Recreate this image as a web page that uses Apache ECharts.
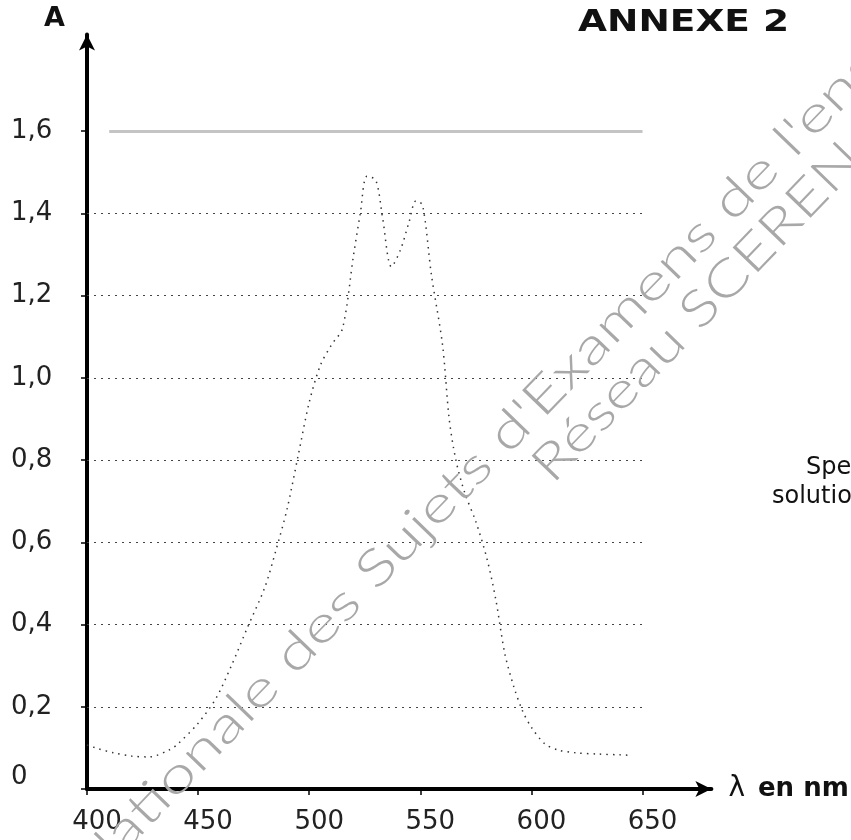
<!DOCTYPE html>
<html>
<head>
<meta charset="utf-8">
<script src="https://cdn.jsdelivr.net/npm/echarts@6/dist/echarts.min.js"></script>
<style>
  html, body { margin: 0; padding: 0; background: #fff; }
  #chart { width: 851px; height: 840px; }
</style>
</head>
<body>
<div id="chart"></div>
<script>
const wavelengths = [400, 405, 412, 420, 428, 437, 441, 450, 458, 465, 472, 480, 485, 490, 495,
  500, 505, 510, 515, 520, 523, 526, 530, 533, 537, 541, 545, 548, 551, 555, 560, 563, 566,
  570, 575, 580, 584, 588, 592, 596, 600, 606, 612, 620, 630, 640, 645];
const absorbance = [0.107, 0.098, 0.088, 0.080, 0.078, 0.095, 0.11, 0.16, 0.22, 0.30, 0.39, 0.49, 0.58, 0.68, 0.81,
  0.94, 1.03, 1.08, 1.12, 1.30, 1.40, 1.49, 1.48, 1.39, 1.27, 1.31, 1.38, 1.43, 1.42, 1.25, 1.08, 0.90, 0.80,
  0.72, 0.65, 0.56, 0.46, 0.33, 0.25, 0.19, 0.15, 0.11, 0.095, 0.088, 0.085, 0.083, 0.082];

const xTicks = [400, 450, 500, 550, 600, 650];
const yTicks = [0, 0.2, 0.4, 0.6, 0.8, 1.0, 1.2, 1.4, 1.6];
const gridLevels = [0.2, 0.4, 0.6, 0.8, 1.0, 1.2, 1.4];
const topLevel = 1.6;

const chart = echarts.init(document.getElementById('chart'));

const gridLines = gridLevels.map(v => [{ coord: [400, v] }, { coord: [650, v] }]);
gridLines.push([
  { coord: [410, topLevel], lineStyle: { type: 'solid', color: '#c4c4c4', width: 3 } },
  { coord: [650, topLevel] }
]);

const wmAngle = 46 * Math.PI / 180;
const wmStyle = {
  fontFamily: 'Lato', fontWeight: 300, fontSize: 50, fill: '#a8a8a8',
  align: 'center', verticalAlign: 'middle'
};

const option = {
  animation: false,
  backgroundColor: '#fff',
  grid: { left: 87, right: 139.6, top: 34.4, bottom: 51, outerBoundsMode: 'none' },
  xAxis: {
    type: 'value',
    min: 400,
    max: 681,
    interval: 50,
    name: '{l|λ}{b|en nm}',
    nameLocation: 'end',
    nameGap: 17,
    nameTextStyle: {
      rich: {
        l: { fontFamily: 'DejaVu Sans', fontSize: 28, color: '#111', padding: [0, 13, 0, 0] },
        b: { fontFamily: 'DejaVu Sans', fontSize: 26, fontWeight: 'bold', color: '#111' }
      }
    },
    axisLine: {
      show: true,
      symbol: ['none', 'arrow'],
      symbolSize: [12, 16],
      lineStyle: { color: '#000', width: 4 }
    },
    axisTick: { show: true, customValues: xTicks, length: 6, lineStyle: { color: '#000', width: 1.5 } },
    axisLabel: {
      customValues: xTicks,
      fontFamily: 'DejaVu Sans',
      fontSize: 26,
      color: '#222',
      margin: 20,
      padding: [0, 0, 0, 20]
    },
    splitLine: { show: false }
  },
  yAxis: {
    type: 'value',
    min: 0,
    max: 1.835,
    interval: 0.2,
    name: 'A',
    nameLocation: 'end',
    nameGap: 2,
    nameTextStyle: {
      fontFamily: 'DejaVu Sans', fontSize: 27, fontWeight: 'bold', color: '#111',
      align: 'right', verticalAlign: 'bottom', padding: [0, 22, 0, 0]
    },
    axisLine: {
      show: true,
      symbol: ['none', 'arrow'],
      symbolSize: [12, 16],
      lineStyle: { color: '#000', width: 4 }
    },
    axisTick: { show: true, customValues: yTicks, length: 6, lineStyle: { color: '#000', width: 1.5 } },
    axisLabel: {
      customValues: yTicks,
      fontFamily: 'DejaVu Sans',
      fontSize: 26,
      color: '#222',
      align: 'left',
      margin: 76,
      formatter: v => (v === 0 ? '{z|0}' : v.toFixed(1).replace('.', ',')),
      rich: { z: { fontFamily: 'DejaVu Sans', fontSize: 26, color: '#222', padding: [0, 0, 24, 0] } }
    },
    splitLine: { show: false }
  },
  series: [{
    type: 'line',
    data: wavelengths.map((w, i) => [w, absorbance[i]]),
    showSymbol: false,
    smooth: 0.3,
    lineStyle: { color: '#333', width: 1.5, type: [1.5, 5] },
    markLine: {
      silent: true,
      symbol: ['none', 'none'],
      label: { show: false },
      lineStyle: { color: '#444', width: 1, type: [2, 5] },
      data: gridLines
    },
    z: 3
  }],
  graphic: [
    {
      type: 'text', left: 578, top: 8, scaleX: 1.25,
      style: { text: 'ANNEXE 2', fontFamily: 'DejaVu Sans', fontSize: 30, fontWeight: 'bold', fill: '#111' }
    },
    {
      type: 'text', x: 806, y: 468,
      style: { text: 'Spectre', fontFamily: 'DejaVu Sans', fontSize: 24, fill: '#111', verticalAlign: 'middle' }
    },
    {
      type: 'text', x: 772, y: 497,
      style: { text: 'solution', fontFamily: 'DejaVu Sans', fontSize: 24, fill: '#111', verticalAlign: 'middle' }
    },
    {
      type: 'text', x: 665, y: 270, rotation: wmAngle, scaleX: 1.33, z: 10,
      style: Object.assign({ text: "Base Nationale des Sujets d'Examens de l'enseignement professionnel" }, wmStyle)
    },
    {
      type: 'text', x: 697, y: 312, rotation: wmAngle, scaleX: 1.27, z: 10,
      style: Object.assign({ text: 'Réseau SCEREN' }, wmStyle)
    }
  ]
};

chart.setOption(option);
</script>
</body>
</html>
